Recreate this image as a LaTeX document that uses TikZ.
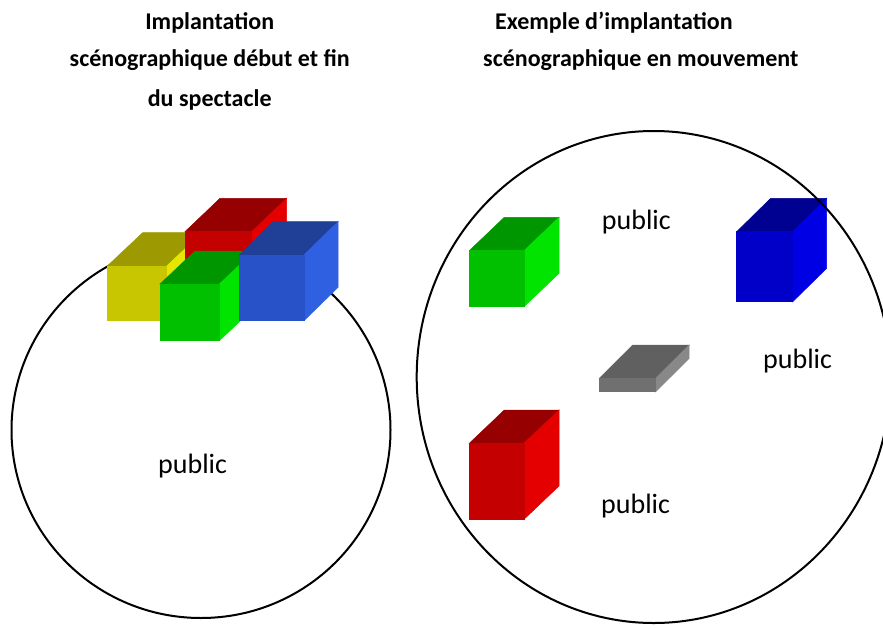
\documentclass[tikz,border=0pt]{standalone}
\usepackage{fontspec}
\setmainfont{Carlito}
\definecolor{yelF}{RGB}{200,198,0}
\definecolor{yelT}{RGB}{156,154,0}
\definecolor{yelR}{RGB}{230,230,0}
\definecolor{redF}{RGB}{196,0,0}
\definecolor{redT}{RGB}{150,0,0}
\definecolor{redR}{RGB}{228,0,0}
\definecolor{grnF}{RGB}{0,192,0}
\definecolor{grnT}{RGB}{0,150,0}
\definecolor{grnR}{RGB}{0,228,0}
\definecolor{bluF}{RGB}{40,82,200}
\definecolor{bluT}{RGB}{32,64,152}
\definecolor{bluR}{RGB}{48,96,226}
\definecolor{dbluF}{RGB}{0,0,200}
\definecolor{dbluT}{RGB}{0,0,145}
\definecolor{dbluR}{RGB}{0,0,228}
\definecolor{gryF}{RGB}{112,112,112}
\definecolor{gryT}{RGB}{96,96,96}
\definecolor{gryR}{RGB}{136,136,136}
\newcommand\drawcube[9]{%
  \filldraw[fill=#8,draw=#8,line width=0.5pt] (#1,#2) -- ({#1+#5},{#2+#6}) -- ({#1+#3+#5},{#2+#6}) -- ({#1+#3},#2) -- cycle;
  \filldraw[fill=#9,draw=#9,line width=0.5pt] ({#1+#3},#2) -- ({#1+#3+#5},{#2+#6}) -- ({#1+#3+#5},{#2+#4+#6}) -- ({#1+#3},{#2+#4}) -- cycle;
  \filldraw[fill=#7,draw=#7,line width=0.5pt] (#1,#2) rectangle ({#1+#3},{#2+#4});
}
\tikzset{
  title/.style={font=\fontsize{24}{28}\selectfont\bfseries, inner sep=0pt, anchor=base},
  pub/.style={font=\fontsize{28}{32}\selectfont, inner sep=0pt, anchor=base west},
  ring/.style={draw=black, line width=2pt}
}
\begin{document}
\begin{tikzpicture}[x=1pt,y=-1pt]
\clip (0,0) rectangle (883,629);
\fill[white] (0,0) rectangle (883,629);
% titles
\node[title] (t1) at (209.7,29) {Implantation};
\node[title] (t2) at (209.7,66.7) {scénographique début et fin};
\node[title] (t3) at (209.7,106) {du spectacle};
\node[title, anchor=base west] (t4) at (495,29) {Exemple d’implantation};
\node[title, anchor=base west] (t5) at (483,66.7) {scénographique en mouvement};
% left circle
\draw[ring] (201,430) ellipse [x radius=189.5, y radius=188];
% left cubes
\drawcube{107.3}{266}{59.4}{54.7}{35.4}{-33.3}{yelF}{yelT}{yelR}
\drawcube{185}{231.7}{66.7}{66}{35}{-33.4}{redF}{redT}{redR}
\drawcube{160}{284}{59.3}{56.7}{35}{-33}{grnF}{grnT}{grnR}
\drawcube{239.3}{255}{64.7}{65.7}{34}{-33.3}{bluF}{bluT}{bluR}
\node[pub] (p1) at (158,473) {public};
% right cubes
\drawcube{469.3}{250.7}{54.7}{56}{35}{-33.4}{grnF}{grnT}{grnR}
\drawcube{736.7}{231.7}{56}{70}{34}{-33.4}{dbluF}{dbluT}{dbluR}
\drawcube{469.3}{443.3}{54.7}{76}{35}{-33.3}{redF}{redT}{redR}
\drawcube{599.3}{378.3}{56.4}{13.4}{33.5}{-33.3}{gryF}{gryT}{gryR}
% right circle
\draw[ring] (653.7,377) ellipse [x radius=237, y radius=246];
\node[pub] (p2) at (601.7,229.3) {public};
\node[pub] (p3) at (763,368) {public};
\node[pub] (p4) at (601,513) {public};
\end{tikzpicture}
\end{document}
